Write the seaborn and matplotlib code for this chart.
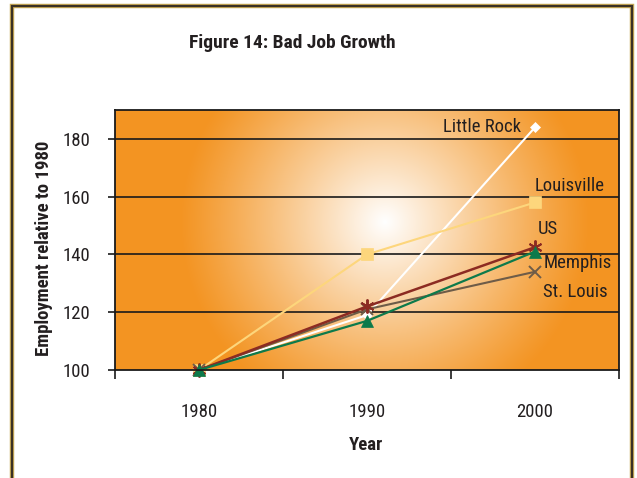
import numpy as np
import pandas as pd
import matplotlib
matplotlib.use("Agg")
import matplotlib.pyplot as plt
import seaborn as sns
from matplotlib import font_manager
from matplotlib.patches import Rectangle
from matplotlib.colors import to_rgb

# Employment index (1980 = 100)
years = ["1980", "1990", "2000"]
little_rock = [100, 119, 184]
louisville = [100, 140, 158]
us = [100, 122, 142.5]
memphis = [100, 117, 141]
st_louis = [100, 121, 134]

series_names = ["Little Rock", "Louisville", "St. Louis", "US", "Memphis"]
series_values = [little_rock, louisville, st_louis, us, memphis]

sns.set_theme(style="white")

# prefer a narrow sans if one is installed
available = {f.name for f in font_manager.fontManager.ttflist}
narrow = [n for n in ["Liberation Sans Narrow", "Roboto Condensed", "DejaVu Sans Condensed",
                      "Open Sans Condensed", "Noto Sans Condensed", "Arial Narrow"]
          if n in available]
plt.rcParams["font.family"] = narrow + ["Liberation Sans", "DejaVu Sans"]
fs = 13.5 if narrow else 12
fs_title = 14 if narrow else 12.5

styles = {
    "Little Rock": dict(color="#FFFFFF", marker="D", ms=5.5, mfc="#FFFFFF", mec="#FFFFFF", mew=0.5, lw=1.5),
    "Louisville": dict(color="#FDD67C", marker="s", ms=8, mfc="#FDD67C", mec="#FDD67C", mew=0.5, lw=1.5),
    "St. Louis": dict(color="#6E5C48", marker="x", ms=8, mfc="none", mec="#6E5C48", mew=1.4, lw=1.5),
    "US": dict(color="#8C2B22", marker=(6, 2, 0), ms=10, mfc="none", mec="#8C2B22", mew=1.4, lw=1.8),
    "Memphis": dict(color="#0D7A4B", marker="^", ms=8.5, mfc="#0D7A4B", mec="#0D7A4B", mew=0.5, lw=1.6),
}

# label offsets (points) relative to the 2000 value
label_pos = {
    "Little Rock": ((-10, 0), "right", "center"),
    "Louisville": ((0, 12), "left", "center"),
    "US": ((2, 13), "left", "center"),
    "Memphis": ((6, -8), "left", "center"),
    "St. Louis": ((6, -14.5), "left", "center"),
}

frames = []
for name, vals in zip(series_names, series_values):
    frames.append(pd.DataFrame({"pos": np.arange(len(years)), "year": years,
                                "value": vals, "series": name}))
df = pd.concat(frames, ignore_index=True)

W, H = 637, 478
fig = plt.figure(figsize=(W / 100, H / 100), dpi=100)
fig.patch.set_facecolor("white")

ax_l, ax_r, ax_t, ax_b = 115, 619, 110, 370
ax = fig.add_axes([ax_l / W, 1 - ax_b / H, (ax_r - ax_l) / W, (ax_b - ax_t) / H])

# radial glow behind the plot
pw, ph = ax_r - ax_l, ax_b - ax_t
gx, gy = np.meshgrid(np.arange(pw) + 0.5, np.arange(ph) + 0.5)
cx, cy, R = 385 - ax_l, 222 - ax_t, 205.0
r = np.sqrt((gx - cx) ** 2 + (gy - cy) ** 2) / R
t = np.clip(1 - r, 0, 1) ** 1.1
orange = np.array(to_rgb("#F39422"))
white = np.array([1.0, 1.0, 1.0])
img = orange[None, None, :] + (white - orange)[None, None, :] * t[..., None]
ax.imshow(img, extent=[0, 1, 0, 1], transform=ax.transAxes, aspect="auto",
          zorder=0, interpolation="bilinear")

ax.set_xlim(-0.5, len(years) - 0.5)
ax.set_ylim(100, 190)

for yv in [120, 140, 160, 180]:
    ax.axhline(yv, color="#1a1a1a", lw=1.2, zorder=1)

for name in series_names:
    st = styles[name]
    sub = df[df["series"] == name]
    sns.lineplot(data=sub, x="pos", y="value", ax=ax, color=st["color"], lw=st["lw"],
                 marker=st["marker"], markersize=st["ms"], markerfacecolor=st["mfc"],
                 markeredgecolor=st["mec"], markeredgewidth=st["mew"],
                 legend=False, zorder=3, clip_on=False)
    (dx, dy), ha, va = label_pos[name]
    ax.annotate(name, xy=(sub["pos"].iloc[-1], sub["value"].iloc[-1]),
                xytext=(dx, dy), textcoords="offset points", ha=ha, va=va,
                fontsize=fs, color="#231f20", zorder=5)

# ticks
ax.set_yticks([100, 120, 140, 160, 180])
ax.tick_params(axis="y", which="major", length=5, width=1.2, color="#1a1a1a",
               labelsize=fs, labelcolor="#231f20", pad=13, left=True)
ax.set_xticks(np.arange(-0.5, len(years), 1.0))
ax.set_xticklabels([])
ax.set_xticks(np.arange(len(years)), minor=True)
ax.set_xticklabels(years, minor=True)
ax.tick_params(axis="x", which="major", length=6.5, width=1.2, color="#1a1a1a", bottom=True)
ax.tick_params(axis="x", which="minor", length=0, labelsize=fs, labelcolor="#231f20", pad=24)

for s in ax.spines.values():
    s.set_color("#1a1a1a")
    s.set_linewidth(1.3)
    s.set_zorder(4)

ax.set_xlabel("Year", fontsize=fs, fontweight="bold", color="#231f20")
ax.set_ylabel("Employment relative to 1980", fontsize=fs, fontweight="bold", color="#231f20")
ax.xaxis.set_label_coords((366 - ax_l) / pw, -(445 - ax_b) / ph)
ax.yaxis.set_label_coords(-(ax_l - 44) / pw, (ax_b - 248) / ph)
ax.xaxis.label.set_va("center")
ax.yaxis.label.set_va("center")

fig.text(292.5 / W, 1 - 47.5 / H, "Figure 14: Bad Job Growth", ha="center", va="baseline",
         fontsize=fs_title, fontweight="bold", color="#231f20")

# page frame
for lw, col in [(3.2, "#C9AA55"), (1.6, "#3A3125")]:
    fig.add_artist(Rectangle((11.5 / W, -0.2), (631.5 - 11.5) / W, 1.2 - 6 / H,
                             transform=fig.transFigure, fill=False, lw=lw, ec=col, zorder=10))

fig.savefig("out.png", dpi=100)
